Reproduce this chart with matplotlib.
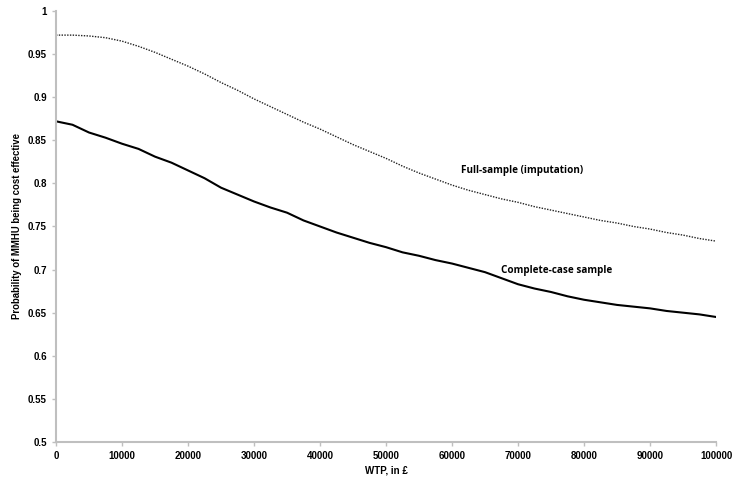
import matplotlib
matplotlib.use("Agg")
import matplotlib.pyplot as plt

wtp = [0, 2500, 5000, 7500, 10000, 12500, 15000, 17500, 20000, 22500, 25000,
       27500, 30000, 32500, 35000, 37500, 40000, 42500, 45000, 47500, 50000,
       52500, 55000, 57500, 60000, 62500, 65000, 67500, 70000, 72500, 75000,
       77500, 80000, 82500, 85000, 87500, 90000, 92500, 95000, 97500, 100000]

full_sample = [0.972, 0.972, 0.971, 0.969, 0.965, 0.959, 0.952, 0.944, 0.936,
               0.927, 0.917, 0.908, 0.898, 0.889, 0.880, 0.871, 0.863, 0.854,
               0.845, 0.837, 0.829, 0.820, 0.812, 0.805, 0.798, 0.792, 0.787,
               0.782, 0.778, 0.773, 0.769, 0.765, 0.761, 0.757, 0.754, 0.750,
               0.747, 0.743, 0.740, 0.736, 0.733]

complete_case = [0.872, 0.868, 0.859, 0.853, 0.846, 0.840, 0.831, 0.824, 0.815,
                 0.806, 0.795, 0.787, 0.779, 0.772, 0.766, 0.757, 0.750, 0.743,
                 0.737, 0.731, 0.726, 0.720, 0.716, 0.711, 0.707, 0.702, 0.697,
                 0.690, 0.683, 0.678, 0.674, 0.669, 0.665, 0.662, 0.659, 0.657,
                 0.655, 0.652, 0.650, 0.648, 0.645]

x_ticks = [0, 10000, 20000, 30000, 40000, 50000, 60000, 70000, 80000, 90000, 100000]
y_ticks = [0.5, 0.55, 0.6, 0.65, 0.7, 0.75, 0.8, 0.85, 0.9, 0.95, 1.0]
y_tick_labels = ["0.5", "0.55", "0.6", "0.65", "0.7", "0.75", "0.8", "0.85", "0.9", "0.95", "1"]

fig = plt.figure(figsize=(7.5, 4.9), dpi=100)
ax = fig.add_axes([0.0747, 0.098, 0.88, 0.8796])

ax.plot(wtp, full_sample, color="#222222", lw=1.0, linestyle=(0, (1, 1)))
ax.plot(wtp, complete_case, color="black", lw=1.5)

ax.set_xlim(0, 100000)
ax.set_ylim(0.5, 1.0)
ax.set_xticks(x_ticks)
ax.set_xticklabels([str(v) for v in x_ticks])
ax.set_yticks(y_ticks)
ax.set_yticklabels(y_tick_labels)

for s in ["top", "right"]:
    ax.spines[s].set_visible(False)
for s in ["left", "bottom"]:
    ax.spines[s].set_color("#bfbfbf")
    ax.spines[s].set_linewidth(1.5)

ax.tick_params(axis="both", colors="#bfbfbf", length=3, width=1, labelcolor="black",
               labelsize=7)
for lab in ax.get_xticklabels() + ax.get_yticklabels():
    lab.set_fontweight("bold")
    lab.set_family("Liberation Sans")

ax.set_xlabel("WTP, in £", fontsize=7, fontweight="bold", family="Liberation Sans", labelpad=3)
ax.set_ylabel("Probability of MMHU being cost effective", fontsize=6.9, fontweight="bold",
              family="Liberation Sans", labelpad=4)

ax.text(70600, 0.8155, "Full-sample (imputation)", ha="center", va="center",
        fontsize=7.1, fontweight="bold", family="Open Sans")
ax.text(75900, 0.6995, "Complete-case sample", ha="center", va="center",
        fontsize=7.1, fontweight="bold", family="Open Sans")

fig.savefig("out.png", dpi=100)
